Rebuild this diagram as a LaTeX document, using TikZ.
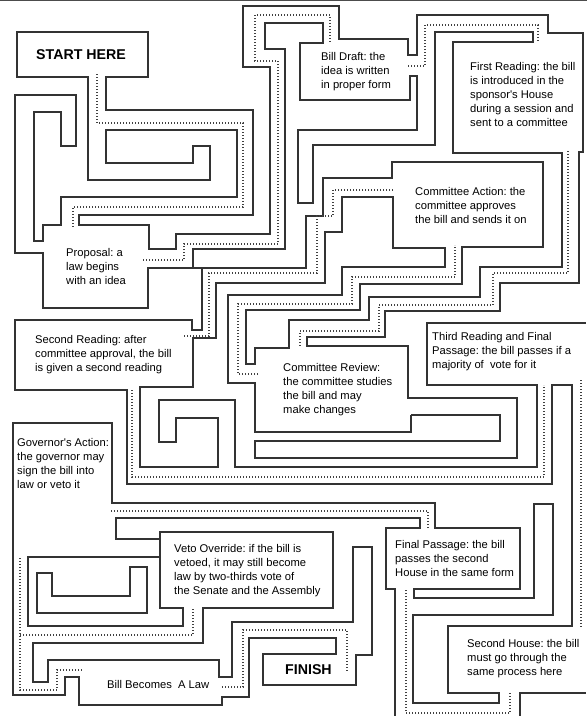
\documentclass[tikz,border=0pt]{standalone}
\usepackage{fontspec}
\setmainfont{Liberation Sans}[Ligatures=TeXOff]
\frenchspacing
\begin{document}
\begin{tikzpicture}[x=1pt,y=-1pt,
  wall/.style={line width=1.5pt, draw=black!80, line join=miter},
  route/.style={line width=1.5pt, draw=black!75, dash pattern=on 1pt off 2pt},
  lbl/.style={anchor=north west, inner sep=0pt, align=left, font=\fontsize{11.2}{14}\selectfont},
  big/.style={anchor=west, inner sep=0pt, font=\fontsize{14.2}{16}\selectfont\bfseries}]
\useasboundingbox (0,0) rectangle (587,716);
\fill[white] (0,0) rectangle (587,716);
\draw[line width=1.4pt, draw=black!70] (0,0.7) -- (587,0.7);

% walls
\draw[wall] (411,415)--(500,415)--(500,441)--(255,441)--(255,458)--(517,458)--(517,398)--(408,398)--(408,346)--(307,346)--(307,337)--(385,337)--(385,311)--(500,311)--(500,283)--(579,283)--(579,152)--(583,152)--(583,33)--(548,33)--(548,15)--(417,15)--(417,55)--(408,55)--(408,39)--(339,39)--(339,6)--(243,6)--(243,67)--(270,67)--(270,234)--(176,234)--(176,249)--(149,249)--(149,225)--(79,225)--(79,215)--(253,215)--(253,110)--(106,110)--(106,77)--(148,77)--(148,32)--(17,32)--(17,77)--(88,77)--(88,180)--(210,180)--(210,146)--(193,146)--(193,163)--(106,163)--(106,130)--(237,130)--(237,197)--(61,197)--(61,225)--(43,225)--(43,241)--(34,241)--(34,112)--(61,112)--(61,146)--(76,146)--(76,95)--(15,95)--(15,253)--(43,253)--(43,308)--(148,308)--(148,268)--(306,268)--(306,216)--(323,216)--(323,178)--(392,178)--(392,162)--(543,162)--(543,247)--(462,247)--(462,284)--(360,284)--(360,310)--(246,310)--(246,364)--(255,364)--(255,348)--(289,348)--(289,320)--(369,320)--(369,297)--(480,297)--(480,267)--(562,267)--(562,153)--(453,153)--(453,42)--(533,42)--(533,32)--(435,32)--(435,145)--(313,145)--(313,203)--(298,203)--(298,130)--(417,130)--(417,76)--(410,76)--(410,100)--(300,100)--(300,43)--(323,43)--(323,23)--(265,23)--(265,49)--(285,49)--(285,249)--(193,249)--(193,268);

\draw[wall] (411,415)--(411,432)--(255,432)--(255,383)--(228,383)--(228,295)--(342,295)--(342,267)--(445,267)--(445,248)--(393,248)--(393,197)--(342,197)--(342,232)--(325,232)--(325,283)--(216,283)--(216,338)--(193,338)--(193,387)--(140,387)--(140,467)--(218,467)--(218,418)--(176,418)--(176,442)--(159,442)--(159,400)--(235,400)--(235,467)--(537,467)--(537,385)--(427,385)--(427,323)--(586,323);

\draw[wall] (202,268)--(202,330)--(192,330)--(192,320)--(15,320)--(15,390)--(127,390)--(127,484)--(552,484)--(552,385)--(572,385)--(572,626)--(448,626)--(448,693)--(499,693)--(499,703)--(413,703)--(413,615)--(553,615)--(553,504)--(534,504)--(534,598)--(414,598)--(414,589)--(520,589)--(520,528)--(435,528)--(435,503)--(112,503)--(112,423)--(13,423)--(13,695)--(65,695)--(65,677)--(79,677)--(79,705)--(222,705)--(222,697)--(249,697)--(249,638)--(336,638)--(336,654)--(263,654)--(263,685)--(356,685)--(356,655)--(372,655)--(372,547)--(353,547)--(353,622)--(232,622)--(232,677)--(219,677)--(219,660)--(48,660)--(48,682)--(33,682)--(33,643)--(203,643)--(203,608)--(333,608)--(333,532)--(160,532)--(160,608)--(183,608)--(183,626)--(28,626)--(28,557)--(160,557);

\draw[wall] (160,539)--(116,539)--(116,518)--(420,518)--(420,528)--(386,528)--(386,589)--(395,589)--(395,716);
\draw[wall] (37,573)--(52,573)--(52,596)--(130,596)--(130,567)--(147,567)--(147,613)--(37,613)--cycle;
\draw[wall] (520,716)--(520,693)--(586,693);

% route
\draw[route] (97,74)--(97,123)--(243,123)--(243,207)--(73,207)--(73,228);
\draw[route] (143,260)--(184,260)--(184,244)--(278,244)--(278,61)--(255,61)--(255,15)--(330,15)--(330,43);
\draw[route] (408,66)--(425,66)--(425,25)--(538,25)--(538,42);
\draw[route] (568,151)--(568,273)--(493,273)--(493,305)--(379,305)--(379,331)--(300,331)--(300,347);
\draw[route] (258,374)--(238,374)--(238,304)--(352,304)--(352,277)--(455,277)--(455,245);
\draw[route] (393,190)--(333,190)--(333,216)--(317,216)--(317,273)--(209,273)--(209,336)--(183,336);
\draw[route] (132,390)--(132,477)--(544,477)--(544,385);
\draw[route] (581,380)--(581,628);
\draw[route] (510,693)--(510,713)--(406,713)--(406,590);
\draw[route] (428,528)--(428,511)--(110,511);
\draw[route] (20,558)--(20,690)--(57,690)--(57,670)--(82,670);
\draw[route] (193,609)--(193,635)--(20,635);
\draw[route] (222,687)--(243,687)--(243,630)--(347,630)--(347,672);

% labels
\node[big] (start) at (36,55) {START HERE};
\node[big] (finish) at (285,670) {FINISH};
\node[lbl] (draft) at (321,52.5) {Bill Draft: the\\idea is written\\in proper form};
\node[lbl] (first) at (470,62.5) {First Reading: the bill\\is introduced in the\\sponsor's House\\during a session and\\sent to a committee};
\node[lbl] (caction) at (415,187.5) {Committee Action: the\\committee approves\\the bill and sends it on};
\node[lbl] (proposal) at (66,248.5) {Proposal: a\\law begins\\with an idea};
\node[lbl] (second) at (35,335.5) {Second Reading: after\\committee approval, the bill\\is given a second reading};
\node[lbl] (creview) at (283,363.5) {Committee Review:\\the committee studies\\the bill and may\\make changes};
\node[lbl] (third) at (432,332.5) {Third Reading and Final\\Passage: the bill passes if a\\majority of~ vote for it};
\node[lbl] (governor) at (17,438.5) {Governor's Action:\\the governor may\\sign the bill into\\law or veto it};
\node[lbl] (veto) at (174,544.5) {Veto Override: if the bill is\\vetoed, it may still become\\law by two-thirds vote of\\the Senate and the Assembly};
\node[lbl] (final) at (395,540.5) {Final Passage: the bill\\passes the second\\House in the same form};
\node[lbl] (house) at (467,639.5) {Second House: the bill\\must go through the\\same process here};
\node[lbl, anchor=west] (law) at (107,684) {Bill Becomes~ A Law};
\end{tikzpicture}
\end{document}
